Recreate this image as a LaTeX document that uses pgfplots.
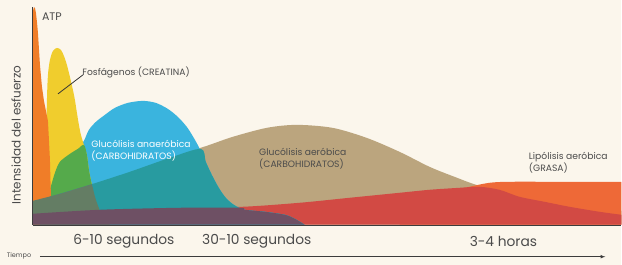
\documentclass[border=0pt]{standalone}
\usepackage{fontspec}
\setmainfont{Poppins}
\usepackage{pgfplots}
\pgfplotsset{compat=1.18}
\definecolor{bg}{RGB}{251,246,236}
\definecolor{tanc}{RGB}{187,165,126}
\definecolor{redc}{RGB}{210,74,68}
\definecolor{lipo}{RGB}{238,105,55}
\definecolor{bluec}{RGB}{58,180,222}
\definecolor{tealc}{RGB}{40,155,160}
\definecolor{yelc}{RGB}{240,205,45}
\definecolor{greenc}{RGB}{85,170,75}
\definecolor{darkc}{RGB}{100,125,100}
\definecolor{purc}{RGB}{110,80,100}
\definecolor{atpc}{RGB}{240,125,40}
\definecolor{txt}{RGB}{75,75,75}
\begin{document}
\begin{tikzpicture}
\fill[bg] (0,-40pt) rectangle (622pt,225pt);
\begin{axis}[x=1pt,y=1pt,xmin=0,xmax=622,ymin=-40,ymax=225,
  at={(0,0)},anchor=origin,hide axis,clip=false]
% Glucolisis aerobica (tan)
\addplot[fill=tanc,draw=none,smooth] coordinates {(33,24)(60,31)(90,40)(130,53)(170,67)(207,79)(233,88)(267,97)(297,100)(333,97)(367,87)(400,73)(430,58)(455,48)(480,39)(520,30)(560,22)(622,14)} \closedcycle;
% Lipolisis (orange)
\addplot[fill=lipo,draw=none,smooth] coordinates {(400,18)(420,25)(450,33)(470,38)(490,42)(510,43)(560,43)(622,43)} \closedcycle;
% red
\addplot[fill=redc,draw=none,smooth] coordinates {(33,11)(100,15)(180,17)(243,18)(300,22)(350,27)(400,32)(430,35)(460,37)(480,38)(500,35)(520,28)(545,23)(570,18)(600,13)(622,10)} \closedcycle;
% blue
\addplot[fill=bluec,draw=none,smooth] coordinates {(40,0)(45,15)(50,35)(55,52)(60,63)(70,71)(78,76)(84,84)(89,95)(96,103)(105,110)(115,117)(128,122)(143,124)(156,122)(168,116)(178,108)(187,98)(194,87)(200,76)(206,63)(212,50)(219,37)(226,27)(234,20)(245,15)(265,13)(285,10)(295,6)(305,0)} \closedcycle;
% yellow
\addplot[fill=yelc,draw=none,smooth] coordinates {(44,0)(46,80)(47,125)(48,150)(50,165)(53,174)(57,177)(61,175)(64,169)(67,160)(70,148)(73,135)(75,125)(77,112)(79,100)(81,90)(84,80)(87,70)(89,55)(92,40)(96,25)(102,10)(110,0)} \closedcycle;
% green overlap
\addplot[fill=greenc,draw=none,smooth] coordinates {(44,0)(45,15)(50,35)(55,52)(60,63)(70,71)(78,76)(84,80)(87,70)(89,55)(92,40)(96,25)(102,10)(110,0)} \closedcycle;
% ATP
\addplot[fill=atpc,draw=none] coordinates {(33,0)(33,214)(34,218)(35,217)(36,212)(37,203)(38,192)(39,176)(40,160)(42,138)(44,124)(46,114)(48,104)(49,85)(50,65)(50.5,45)(51,30)(52,15)(54,0)} \closedcycle;
% teal overlap
\addplot[fill=tealc,draw=none,smooth] coordinates {(40,0)(45,15)(48,25)(50,28)(60,31)(90,40)(130,53)(170,67)(201,76)(206,63)(212,50)(219,37)(226,27)(234,20)(245,15)(265,13)(285,10)(295,6)(305,0)} \closedcycle;
% dark overlap
\addplot[fill=darkc,draw=none,smooth] coordinates {(33,24)(60,31)(90,40)(92,40)(96,25)(102,10)(110,0)} \closedcycle;
% purple overlap
\addplot[fill=purc,draw=none,smooth] coordinates {(33,11)(100,15)(180,17)(240,17)(245,15)(265,13)(285,10)(295,6)(305,0)} \closedcycle;
% axes
\draw[txt!80!black,line width=1.4pt] (axis cs:33,-0.5) -- (axis cs:622,-0.5);
\draw[txt!80!black,line width=0.8pt] (axis cs:32.6,-0.5) -- (axis cs:32.6,218);
\draw[txt!80!black,line width=0.6pt,-latex] (axis cs:40,-32) -- (axis cs:606,-32);
% texts
\node[txt,font=\fontsize{6.5}{7}\selectfont] at (axis cs:19,-31.5) {Tiempo};
\node[txt,font=\fontsize{13.8}{15}\selectfont] at (axis cs:124,-17) {6-10 segundos};
\node[txt,font=\fontsize{13.8}{15}\selectfont] at (axis cs:257,-17) {30-10 segundos};
\node[txt,font=\fontsize{13.8}{15}\selectfont] at (axis cs:504,-17) {3-4 horas};
\node[txt,rotate=90,font=\fontsize{12}{14}\selectfont] at (axis cs:16,90) {Intensidad del esfuerzo};
\node[txt,font=\fontsize{11}{12}\selectfont] at (axis cs:52,208) {ATP};
\draw[txt!70!black,line width=0.8pt] (axis cs:83,150) -- (axis cs:58,131);
\node[txt,anchor=west,font=\fontsize{9.2}{10}\selectfont] at (axis cs:79,152) {Fosfágenos (CREATINA)};
\node[white,anchor=west,align=left,font=\fontsize{9.2}{12}\selectfont] at (axis cs:88,74) {Glucólisis anaeróbica\\(CARBOHIDRATOS)};
\node[txt,anchor=west,align=left,font=\fontsize{9.2}{12}\selectfont] at (axis cs:256,66) {Glucólisis aeróbica\\(CARBOHIDRATOS)};
\node[txt,anchor=west,align=left,font=\fontsize{9.2}{12}\selectfont] at (axis cs:526,62) {Lipólisis aeróbica\\(GRASA)};
\end{axis}
\end{tikzpicture}
\end{document}
